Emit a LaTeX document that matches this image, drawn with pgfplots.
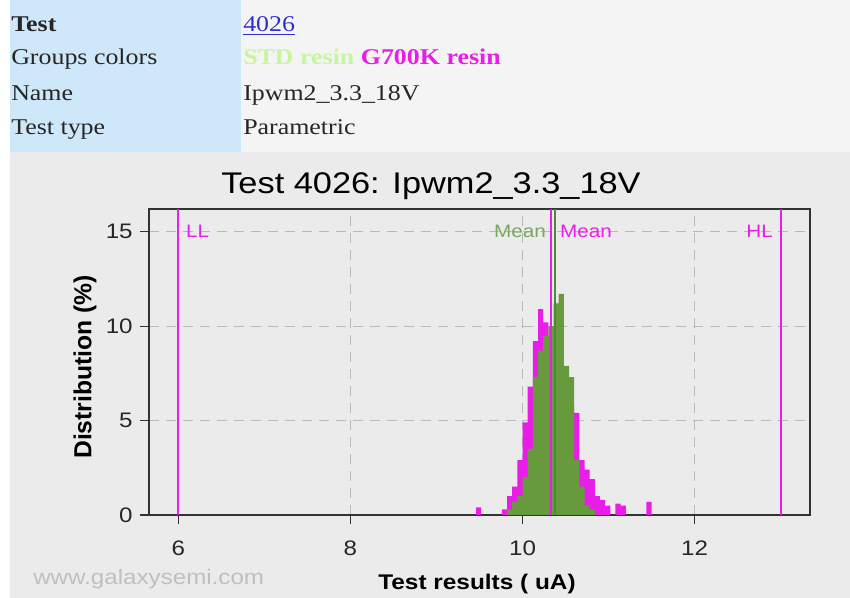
\documentclass[border=0pt]{standalone}
\usepackage{pgfplots}
\pgfplotsset{compat=1.18}
\usepackage{pgfplotstable}
\usepackage{fontspec}
\setmainfont{Liberation Serif}[FakeStretch=1.15]
\newfontfamily\chartfont{Liberation Sans}[FakeStretch=1.15]
\newfontfamily\chartfontv{Liberation Sans}
\definecolor{hblue}{HTML}{CFE8F9}
\definecolor{hgray}{HTML}{F4F4F4}
\definecolor{cbg}{HTML}{EBEBEB}
\definecolor{mag}{HTML}{E81EE8}
\definecolor{grn}{HTML}{669A3C}
\definecolor{grnline}{HTML}{4E8A2E}
\definecolor{grnlabel}{HTML}{78A860}
\definecolor{stdgreen}{HTML}{C8F5A0}
\definecolor{linkblue}{HTML}{3030C8}

% G700K resin distribution (%), bin centres, bin width 0.06 uA
\pgfplotstableread{
x y
9.49 0.4
9.79 0.3
9.85 1.0
9.91 1.5
9.97 2.9
10.03 4.9
10.09 6.8
10.15 9.2
10.21 10.9
10.27 10.2
10.33 9.3
10.39 9.0
10.45 8.0
10.51 6.5
10.57 5.8
10.63 5.4
10.69 2.9
10.75 2.4
10.81 1.9
10.87 1.0
10.93 0.8
10.99 0.5
11.11 0.6
11.17 0.5
11.47 0.7
}\magtable

% STD resin distribution (%)
\pgfplotstableread{
x y
9.85 0.3
9.91 0.7
9.97 1.0
10.03 2.0
10.09 3.5
10.15 7.3
10.21 8.7
10.27 9.5
10.33 10.0
10.39 11.2
10.45 11.7
10.51 7.9
10.57 7.3
10.63 2.9
10.69 1.5
10.75 0.5
10.81 0.3
}\grntable

\begin{document}
\begin{tikzpicture}
\fill[white] (0pt,0pt) rectangle (637.5pt,448.5pt);
\fill[hblue] (7.5pt,334.5pt) rectangle (180.75pt,448.5pt);
\fill[hgray] (180.75pt,334.5pt) rectangle (637.5pt,448.5pt);
\fill[cbg] (7.5pt,0pt) rectangle (637.5pt,334.5pt);

\begin{scope}[every node/.style={inner sep=0pt, anchor=base west, font=\fontsize{16.9pt}{20pt}\selectfont, text=black!85}]
\node at (8.25pt,424.5pt) {\bfseries Test};
\node at (8.25pt,399.75pt) {Groups colors};
\node at (8.25pt,372.75pt) {Name};
\node at (8.25pt,347.25pt) {Test type};
\node[text=linkblue] at (182.25pt,424.5pt) {\underline{4026}};
\node at (182.25pt,399.75pt) {\bfseries\textcolor{stdgreen}{STD resin} \textcolor{mag}{G700K resin}};
\node at (182.25pt,372.75pt) {Ipwm2\_3.3\_18V};
\node at (182.25pt,347.25pt) {Parametric};
\end{scope}

\node[inner sep=0pt, anchor=base, font=\chartfont\fontsize{22.4pt}{26pt}\selectfont] at (323.25pt,303pt) {Test 4026: Ipwm2\_3.3\_18V};
\node[inner sep=0pt, anchor=base, font=\chartfont\bfseries\fontsize{15.9pt}{18pt}\selectfont] at (357.75pt,6pt) {Test results ( uA)};
\node[inner sep=0pt, rotate=90, font=\chartfontv\bfseries\fontsize{18.5pt}{20pt}\selectfont] at (63.75pt,173.25pt) {Distribution (\%)};
\node[inner sep=0pt, anchor=base west, text=black!25, font=\chartfont\fontsize{15.75pt}{18pt}\selectfont] at (24.75pt,9.75pt) {www.galaxysemi.com};

\begin{axis}[
  at={(111.75pt,62.25pt)}, anchor=south west,
  scale only axis, width=495.75pt, height=229.5pt,
  xmin=5.66, xmax=13.34, ymin=0, ymax=16.2,
  xtick={6,8,10,12}, ytick={0,5,10,15},
  tick pos=left, tick align=outside,
  major tick length=6.75pt,
  tick style={black!80, line width=0.9pt},
  axis line style={black!80, line width=1.4pt},
  axis background/.style={fill=cbg},
  grid=major,
  major grid style={gray!55, line width=0.8pt, dash pattern=on 7.5pt off 5.25pt},
  ticklabel style={font=\chartfont\fontsize{15.75pt}{18pt}\selectfont, text=black!85},
  /pgf/number format/assume math mode=true,
  xticklabel style={yshift=-9pt},
  yticklabel style={xshift=-2pt},
  clip=false,
]
\addplot[ybar, bar width=0.06, bar shift=0pt, fill=mag, draw=none] table[x=x,y=y] {\magtable};
\addplot[ybar, bar width=0.06, bar shift=0pt, fill=grn, draw=none] table[x=x,y=y] {\grntable};

\addplot[mag, line width=1.2pt] coordinates {(6,0) (6,16.2)}
  node[pos=0.926, anchor=west, xshift=2pt, font=\chartfont\fontsize{13.5pt}{15pt}\selectfont, text=mag] {LL};
\addplot[mag, line width=1.2pt] coordinates {(13,0) (13,16.2)}
  node[pos=0.926, anchor=east, xshift=-2pt, font=\chartfont\fontsize{13.5pt}{15pt}\selectfont, text=mag] {HL};
\addplot[mag, line width=1.2pt] coordinates {(10.33,0) (10.33,16.2)}
  node[pos=0.926, anchor=west, xshift=3pt, font=\chartfont\fontsize{13.5pt}{15pt}\selectfont, text=mag] {Mean};
\addplot[grnline, line width=1.2pt] coordinates {(10.38,0) (10.38,16.2)}
  node[pos=0.926, anchor=east, xshift=-3pt, font=\chartfont\fontsize{13.5pt}{15pt}\selectfont, text=grnlabel] {Mean};
\end{axis}
\end{tikzpicture}
\end{document}
